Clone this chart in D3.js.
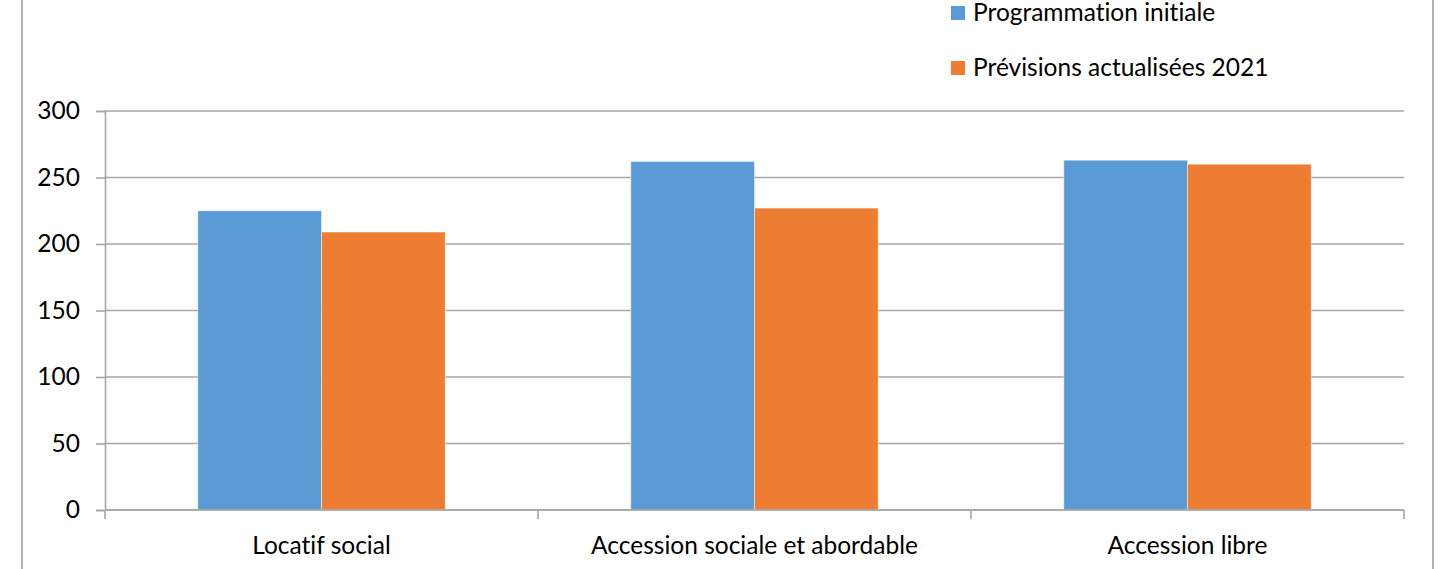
<!DOCTYPE html>
<html>
<head>
<meta charset="utf-8">
<script src="https://cdn.jsdelivr.net/npm/d3@7/dist/d3.min.js"></script>
<style>
  html, body { margin: 0; padding: 0; background: #fff; }
  svg { display: block; }
  text { font-family: Lato, "Open Sans", sans-serif; fill: #000; font-variant-ligatures: none; }
</style>
</head>
<body>
<svg id="chart" width="1442" height="569"></svg>
<script>
// Housing categories and the two series compared
const categories = ["Locatif social", "Accession sociale et abordable", "Accession libre"];
const seriesNames = ["Programmation initiale", "Prévisions actualisées 2021"];
const programmationInitiale = [225, 262, 263];
const previsionsActualisees = [209, 227, 260];
const yTicks = [0, 50, 100, 150, 200, 250, 300];
const seriesColors = ["#5b9bd5", "#ed7d31"];

const FONT_SIZE = 24.5;
const svg = d3.select("#chart");
const W = 1442, H = 569;
const margin = { left: 105, right: W - 1404, top: 111, bottom: H - 510 };
const plotW = W - margin.left - margin.right;
const plotH = H - margin.top - margin.bottom;

// Chart frame (left and right edges of the chart container)
svg.append("rect")
  .attr("x", 22).attr("y", -10)
  .attr("width", 1433 - 22).attr("height", H + 20)
  .attr("fill", "none").attr("stroke", "#b3b3b3").attr("stroke-width", 2);

const g = svg.append("g").attr("transform", `translate(${margin.left},${margin.top})`);

const x0 = d3.scaleBand().domain(categories).range([0, plotW]).paddingInner(0).paddingOuter(0);
// Gap width of 150%: the pair of bars occupies 2 / 3.5 of each category
const gapFrac = 1.5 / 3.5;
const x1 = d3.scaleBand().domain(seriesNames)
  .range([x0.bandwidth() * gapFrac / 2, x0.bandwidth() * (1 - gapFrac / 2)])
  .padding(0);
const y = d3.scaleLinear().domain([0, 300]).range([plotH, 0]);

// Horizontal gridlines
g.append("g").selectAll("line").data(yTicks).join("line")
  .attr("x1", 0).attr("x2", plotW)
  .attr("y1", d => y(d)).attr("y2", d => y(d))
  .attr("stroke", "#a6a6a6").attr("stroke-width", 1.6);

// Y axis
const yAxis = g.append("g").call(d3.axisLeft(y).tickValues(yTicks).tickSize(9).tickPadding(16));
yAxis.select(".domain").attr("stroke", "#a6a6a6").attr("stroke-width", 1.6);
yAxis.selectAll(".tick line").attr("stroke", "#a6a6a6").attr("stroke-width", 1.6);
yAxis.selectAll(".tick text").attr("font-size", FONT_SIZE).attr("font-family", "Lato, sans-serif").attr("fill", "#000");

// Bars
const data = categories.map((c, i) => ({ cat: c, vals: [programmationInitiale[i], previsionsActualisees[i]] }));
const groups = g.append("g").selectAll("g").data(data).join("g")
  .attr("transform", d => `translate(${x0(d.cat)},0)`);
groups.selectAll("rect").data(d => d.vals.map((v, j) => ({ name: seriesNames[j], v, j }))).join("rect")
  .attr("x", d => x1(d.name))
  .attr("width", x1.bandwidth())
  .attr("y", d => y(d.v))
  .attr("height", d => y(0) - y(d.v))
  .attr("fill", d => seriesColors[d.j])
  .attr("stroke", "rgba(255,255,255,0.45)")
  .attr("stroke-width", 1);

// X axis with ticks at category boundaries
const xAxisG = g.append("g").attr("transform", `translate(0,${plotH})`);
xAxisG.append("line").attr("x1", 0).attr("x2", plotW).attr("y1", 0).attr("y2", 0)
  .attr("stroke", "#a6a6a6").attr("stroke-width", 1.6);
const bounds = categories.map(c => x0(c)).concat([plotW]);
xAxisG.selectAll("line.b").data(bounds).join("line").attr("class", "b")
  .attr("x1", d => d).attr("x2", d => d).attr("y1", 0).attr("y2", 9)
  .attr("stroke", "#a6a6a6").attr("stroke-width", 1.6);
xAxisG.selectAll("text").data(categories).join("text")
  .attr("x", d => x0(d) + x0.bandwidth() / 2)
  .attr("y", 44)
  .attr("text-anchor", "middle")
  .attr("font-size", FONT_SIZE)
  .text(d => d);

// Legend
const legend = svg.append("g").attr("transform", "translate(951,0)");
const legendRows = legend.selectAll("g").data(seriesNames).join("g")
  .attr("transform", (d, i) => `translate(0,${13 + i * 55})`);
legendRows.append("rect").attr("x", 0).attr("y", -7).attr("width", 14).attr("height", 14)
  .attr("fill", (d, i) => seriesColors[i]);
legendRows.append("text").attr("x", 22).attr("y", 8).attr("font-size", FONT_SIZE).text(d => d);
</script>
</body>
</html>
